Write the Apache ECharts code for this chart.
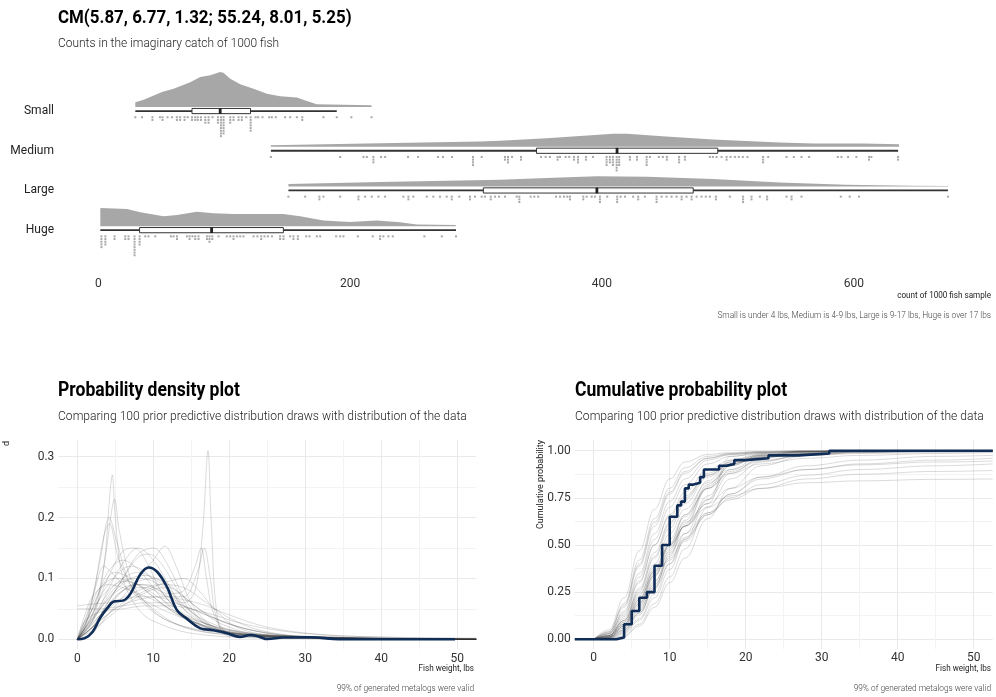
<!DOCTYPE html>
<html>
<head>
<meta charset="utf-8">
<script src="https://cdn.jsdelivr.net/npm/echarts@6/dist/echarts.min.js"></script>
<style>
  html, body { margin: 0; padding: 0; background: #fff; }
  #chart { width: 996px; height: 697px; }
</style>
</head>
<body>
<div id="chart"></div>
<script>
// ---------- Top panel: counts of each size class in a 1000-fish catch ----------
const sizeClasses = ['Huge', 'Large', 'Medium', 'Small'];   // bottom to top
const countTicks = [0, 200, 400, 600];

// Interval summaries: [lower whisker, Q1, median, Q3, upper whisker]
const boxHuge   = [1.6, 32.8, 90, 147, 284.1];
const boxLarge  = [151, 305.8, 396, 472.5, 674.8];
const boxMedium = [137.1, 348, 412, 492, 635.2];
const boxSmall  = [29.4, 74.4, 96.8, 120.9, 189.4];

// Slab densities: [count, relative density]
const slabHuge = [[1.6,0.52],[22.8,0.49],[33.3,0.40],[51.8,0.28],[62.5,0.32],[78.3,0.41],[91.5,0.37],[107.4,0.35],[147,0.35],[160.3,0.28],[178.8,0.16],[200,0.12],[221.2,0.16],[239.7,0.11],[253,0.05],[283.9,0.03]];
const slabLarge = [[151,0.07],[224,0.13],[319,0.19],[356,0.24],[396,0.29],[436,0.28],[488,0.21],[541,0.11],[594,0.05],[647,0.02],[675,0.01]];
const slabMedium = [[137,0.04],[213,0.09],[303,0.15],[319,0.17],[356,0.24],[409,0.37],[420,0.37],[448,0.30],[488,0.21],[541,0.12],[568,0.09],[607,0.09],[636,0.07]];
const slabSmall = [[29.4,0.14],[36,0.21],[50.6,0.43],[59.8,0.52],[73,0.71],[81,0.86],[88.9,0.91],[96.8,1.0],[99.4,0.98],[104.8,0.81],[112.7,0.65],[123.3,0.52],[133.9,0.38],[144.4,0.31],[157.7,0.27],[165.6,0.17],[173.5,0.08],[184,0.07],[217,0.05]];

// Dot columns: [count, number of draws stacked in the column]
const dotsHuge = [[2.5,5],[5.6,4],[12.9,2],[21.4,2],[24,2],[28.8,8],[32.8,4],[37.3,1],[39.9,1],[45.2,1],[57.7,1],[59.8,1],[62.5,2],[70.4,1],[72.5,2],[74.8,1],[77,2],[79.6,2],[86.3,2],[88.3,3],[90.5,2],[95.5,1],[102.1,1],[104.8,1],[107.4,2],[110.1,1],[112.7,1],[115.3,1],[123.3,1],[126.4,1],[129.4,2],[132,1],[134.7,1],[137.9,1],[144.4,2],[147.1,2],[152.4,1],[155,2],[158.5,2],[165.1,1],[167.7,1],[173.6,1],[176.2,1],[188.9,1],[192.1,1],[194.7,1],[206.1,1],[218,1],[223.8,2],[226.4,1],[230.4,1],[233.9,1],[259,1],[272.8,1],[284.1,1]];
const dotsLarge = [[151,1],[164.3,1],[175.6,2],[178.8,1],[192.1,1],[206.6,2],[211.9,1],[217.2,1],[222.5,1],[227.8,1],[242.3,1],[246.3,2],[250.2,1],[260.9,1],[266.1,1],[271.4,1],[276.7,1],[280.7,2],[286.7,1],[295.2,2],[299.2,1],[304.5,1],[307.1,1],[311.7,2],[315.1,1],[318.3,1],[323,1],[332.3,1],[334.4,3],[343.4,1],[346.3,1],[349.4,1],[363.5,1],[366.7,1],[369.8,1],[372.5,1],[374.6,2],[385.2,2],[387.9,1],[391.8,1],[394.4,1],[398.4,3],[404.2,1],[412.1,3],[414.8,1],[418.3,1],[424.8,1],[428.8,2],[434.1,1],[443.4,3],[447.4,1],[451.3,1],[455.3,1],[459.3,1],[463.3,2],[467.2,1],[471.2,2],[475.2,1],[479.1,1],[482.5,1],[485.7,1],[490.5,2],[501.6,1],[512.1,3],[518.8,2],[525.4,1],[531.2,2],[546.6,1],[550.6,2],[558.5,1],[589.7,1],[596.8,1],[604.2,1],[674.8,1]];
const dotsMedium = [[137.1,1],[192.1,1],[210.6,1],[213.3,1],[218.5,3],[224.6,1],[227.8,1],[246,1],[254,1],[269.8,1],[273.8,1],[281,1],[297.6,4],[304.5,1],[323,2],[325.4,3],[328.6,1],[335.7,2],[351.6,1],[355.3,1],[358.7,1],[364.8,2],[366.7,1],[371.2,1],[374,1],[377.8,2],[381,3],[387.3,2],[392.9,1],[403.7,4],[406.3,3],[408.7,4],[411.7,6],[413.7,4],[422.2,2],[427.8,2],[435.5,4],[438.1,1],[445.2,1],[448.4,1],[451.6,2],[461.3,3],[465.9,2],[485.7,1],[488.1,1],[491,1],[495,1],[499,2],[502.1,1],[505.6,1],[508.7,1],[511.9,1],[515.6,1],[528,3],[532,1],[546.6,1],[552.4,1],[558.5,1],[564.5,1],[587.3,1],[590.2,1],[595.5,1],[602.1,1],[612.1,2],[614,1],[635.2,2]];
const dotsSmall = [[29.4,1],[34.7,1],[43,2],[49,1],[51,2],[55,1],[58.5,1],[62.4,2],[65,2],[68.5,2],[71,1],[74.4,2],[77,2],[79,2],[81.5,2],[85,3],[87.6,3],[90.7,1],[95,3],[97.4,8],[99.5,7],[104.8,3],[107.4,2],[111.4,2],[114,2],[117.5,1],[121,6],[125,1],[127,1],[130.4,1],[135.7,1],[137.8,1],[141,1],[148.4,1],[152.4,1],[157.7,1],[162,2],[178.8,1],[189.4,1],[201,1],[217,1]];

// ---------- Bottom left: prior predictive densities vs. data density ----------
const densityDraws = [
  [[0,0],[2,0.03],[3.5,0.12],[4.3,0.24],[4.6,0.27],[5,0.2],[6,0.1],[8,0.05],[10,0.03],[15,0.01],[25,0.002],[52.5,0]],
  [[0,0],[2,0.04],[3.5,0.12],[4.5,0.21],[4.9,0.23],[5.5,0.18],[7,0.1],[9,0.06],[12,0.03],[18,0.01],[30,0.002],[52.5,0]],
  [[0,0],[1.5,0.04],[3,0.13],[4.2,0.2],[5.2,0.16],[7,0.09],[10,0.05],[14,0.02],[20,0.008],[52.5,0]],
  [[0,0],[2,0.07],[3.5,0.17],[4.2,0.19],[5.5,0.13],[8,0.07],[12,0.03],[20,0.01],[52.5,0]],
  [[0,0],[2,0.04],[4,0.1],[6,0.145],[7.5,0.15],[9,0.13],[11,0.08],[14,0.04],[18,0.015],[25,0.004],[52.5,0]],
  [[0,0],[2,0.02],[4,0.06],[6,0.1],[8,0.14],[10,0.15],[12,0.12],[14,0.07],[17,0.025],[22,0.008],[52.5,0]],
  [[0,0],[2,0.01],[4,0.04],[6,0.07],[8,0.1],[10,0.13],[11.5,0.153],[13,0.12],[15,0.06],[18,0.02],[24,0.005],[52.5,0]],
  [[0,0],[2,0.02],[4,0.05],[6,0.08],[8,0.09],[10,0.085],[12,0.07],[14,0.06],[15.5,0.08],[16.5,0.18],[17.2,0.31],[17.6,0.2],[18.5,0.03],[20,0.005],[52.5,0]],
  [[0,0],[3,0.04],[6,0.08],[9,0.085],[12,0.07],[14,0.07],[15.8,0.11],[16.7,0.15],[17.5,0.1],[18.5,0.03],[21,0.005],[52.5,0]],
  [[0,0],[3,0.05],[6,0.085],[9,0.09],[12,0.075],[14,0.08],[15.5,0.12],[16.3,0.15],[17,0.1],[18,0.04],[20,0.01],[52.5,0]],
  [[0,0.055],[2,0.058],[4,0.06],[6,0.065],[8,0.07],[10,0.07],[12,0.065],[14,0.055],[16,0.045],[20,0.025],[25,0.01],[30,0.004],[52.5,0]],
  [[0,0.05],[3,0.05],[6,0.055],[9,0.06],[12,0.06],[15,0.05],[18,0.035],[22,0.018],[28,0.006],[35,0.002],[52.5,0.001]],
  [[0,0],[2,0.03],[4,0.07],[6,0.095],[8,0.1],[10,0.095],[12,0.075],[14,0.05],[17,0.025],[22,0.01],[30,0.003],[52.5,0]],
  [[0,0],[1.5,0.03],[3.5,0.08],[5.5,0.11],[7,0.12],[9,0.11],[11,0.08],[13,0.05],[16,0.025],[20,0.01],[30,0.002],[52.5,0]],
  [[0,0],[2,0.05],[4,0.11],[6,0.13],[8,0.115],[10,0.085],[12,0.055],[15,0.03],[20,0.012],[28,0.004],[52.5,0]],
  [[0,0],[2,0.015],[4,0.035],[6,0.055],[8,0.07],[10,0.082],[12,0.085],[14,0.07],[16,0.05],[19,0.03],[24,0.012],[32,0.003],[52.5,0]],
  [[0,0],[3,0.03],[6,0.06],[9,0.08],[12,0.095],[14,0.1],[16,0.08],[18,0.05],[21,0.02],[26,0.006],[52.5,0]],
  [[0,0],[2,0.02],[4,0.06],[6,0.1],[8,0.135],[9.5,0.14],[11,0.125],[13,0.085],[15,0.045],[18,0.018],[24,0.005],[52.5,0]],
  [[0,0],[1,0.03],[3,0.045],[6,0.05],[9,0.055],[12,0.055],[15,0.05],[18,0.04],[22,0.025],[28,0.012],[36,0.005],[52.5,0.002]],
  [[0,0],[1,0.02],[3,0.08],[5,0.11],[7,0.1],[9,0.08],[11,0.06],[14,0.035],[18,0.015],[25,0.005],[52.5,0]],
  [[0,0],[2,0.03],[4,0.08],[6,0.125],[8,0.15],[10,0.13],[12,0.09],[14,0.05],[17,0.02],[22,0.006],[52.5,0]],
  [[0,0],[2,0.02],[5,0.06],[8,0.08],[11,0.09],[14,0.085],[17,0.06],[20,0.035],[24,0.015],[30,0.005],[52.5,0.001]],
  [[0,0],[1,0.02],[2.5,0.09],[3.5,0.12],[4.5,0.11],[6,0.09],[8,0.07],[11,0.05],[15,0.03],[20,0.012],[30,0.003],[52.5,0]],
  [[0,0],[2,0.02],[5,0.05],[8,0.065],[11,0.07],[14,0.065],[17,0.055],[20,0.04],[25,0.02],[32,0.008],[42,0.003],[52.5,0.001]],
  [[0,0],[1,0.025],[2,0.05],[4,0.08],[6,0.095],[8,0.09],[10,0.075],[13,0.05],[16,0.03],[20,0.015],[28,0.004],[52.5,0]],
  [[0,0],[1,0.03],[2,0.06],[3,0.085],[5,0.1],[7,0.095],[9,0.08],[12,0.05],[15,0.03],[20,0.012],[30,0.002],[52.5,0]],
  [[0,0],[1,0.015],[3,0.05],[5,0.08],[7,0.1],[9,0.105],[11,0.095],[13,0.07],[16,0.035],[20,0.012],[28,0.003],[52.5,0]],
  [[0,0],[2,0.035],[4,0.075],[6,0.1],[8,0.11],[10,0.1],[12,0.08],[14,0.055],[17,0.03],[22,0.01],[30,0.002],[52.5,0]],
  [[0,0],[1,0.04],[2,0.07],[4,0.09],[6,0.085],[8,0.075],[10,0.065],[13,0.045],[17,0.025],[23,0.01],[32,0.003],[52.5,0]],
  [[0,0],[2,0.025],[4,0.055],[6,0.08],[8,0.095],[10,0.1],[12,0.09],[14,0.07],[16,0.05],[19,0.025],[24,0.008],[52.5,0]]
];
const dataDensity = [[0,0],[1,0.002],[2,0.012],[3,0.035],[4,0.052],[4.8,0.062],[6.1,0.064],[7,0.075],[8.3,0.107],[9.4,0.118],[10.5,0.111],[11.8,0.086],[13.1,0.048],[14.4,0.034],[16.2,0.018],[17.9,0.015],[19.7,0.01],[21.4,0.004],[22.8,0.007],[24,0.004],[25,0.0005],[27.1,0.003],[30.7,0.0035],[33.7,0.0005],[35,0],[49.7,0]];

// ---------- Bottom right: prior predictive CDFs vs. empirical CDF ----------
const cdfGrid = [0, 2, 4, 6, 8, 10, 12, 15, 18, 22, 28, 35, 45, 52.5];
const cdfDraws = [
  [0,0.05,0.22,0.47,0.69,0.85,0.94,0.98,0.99,0.996,0.999,1,1,1],
  [0,0.04,0.19,0.42,0.64,0.8,0.91,0.97,0.985,0.993,0.998,1,1,1],
  [0,0.035,0.17,0.39,0.6,0.77,0.88,0.96,0.98,0.99,0.997,0.999,1,1],
  [0,0.03,0.15,0.35,0.56,0.73,0.85,0.95,0.98,0.99,0.996,0.999,1,1],
  [0,0.03,0.14,0.33,0.53,0.7,0.82,0.93,0.97,0.985,0.994,0.998,1,1],
  [0,0.04,0.18,0.4,0.62,0.78,0.89,0.96,0.985,0.995,0.999,1,1,1],
  [0,0.025,0.12,0.3,0.5,0.66,0.78,0.9,0.95,0.975,0.99,0.996,0.999,1],
  [0,0.02,0.11,0.27,0.46,0.62,0.75,0.88,0.94,0.97,0.985,0.993,0.997,0.999],
  [0,0.02,0.1,0.25,0.43,0.59,0.72,0.86,0.93,0.965,0.982,0.99,0.995,0.997],
  [0,0.015,0.09,0.23,0.4,0.56,0.69,0.83,0.9,0.95,0.975,0.985,0.99,0.993],
  [0,0.015,0.08,0.21,0.37,0.53,0.66,0.8,0.88,0.93,0.96,0.975,0.985,0.99],
  [0,0.02,0.1,0.26,0.44,0.61,0.74,0.87,0.93,0.965,0.985,0.995,0.999,1],
  [0,0.012,0.07,0.19,0.35,0.51,0.65,0.8,0.89,0.945,0.975,0.99,0.996,0.998],
  [0,0.01,0.06,0.17,0.33,0.5,0.66,0.84,0.94,0.98,0.995,1,1,1],
  [0,0.005,0.04,0.13,0.27,0.44,0.6,0.8,0.92,0.975,0.994,0.999,1,1],
  [0,0.003,0.03,0.1,0.22,0.37,0.53,0.74,0.88,0.96,0.99,0.998,1,1],
  [0,0.002,0.02,0.08,0.19,0.33,0.48,0.7,0.85,0.94,0.985,0.997,1,1],
  [0,0.001,0.015,0.07,0.17,0.3,0.43,0.64,0.8,0.92,0.975,0.993,0.999,1],
  [0,0.005,0.035,0.11,0.24,0.4,0.56,0.76,0.9,0.97,0.992,0.999,1,1],
  [0,0.008,0.05,0.15,0.3,0.47,0.63,0.82,0.93,0.98,0.995,1,1,1],
  [0,0.02,0.1,0.24,0.38,0.5,0.6,0.7,0.76,0.8,0.83,0.84,0.848,0.85],
  [0,0.015,0.08,0.2,0.34,0.46,0.56,0.67,0.74,0.8,0.85,0.875,0.89,0.895],
  [0,0.01,0.07,0.18,0.31,0.43,0.54,0.66,0.75,0.82,0.87,0.9,0.92,0.93],
  [0,0.02,0.09,0.22,0.36,0.49,0.6,0.72,0.8,0.86,0.9,0.925,0.94,0.945],
  [0,0.01,0.06,0.16,0.29,0.42,0.53,0.67,0.77,0.85,0.9,0.93,0.95,0.96],
  [0,0.01,0.05,0.14,0.27,0.4,0.52,0.66,0.77,0.86,0.92,0.95,0.97,0.975],
  [0,0.01,0.07,0.19,0.34,0.48,0.6,0.74,0.97,0.99,0.997,1,1,1],
  [0,0.015,0.08,0.21,0.36,0.5,0.62,0.72,0.95,0.985,0.995,1,1,1],
  [0,0.03,0.13,0.31,0.5,0.65,0.76,0.87,0.93,0.965,0.985,0.994,0.998,1],
  [0,0.006,0.045,0.14,0.28,0.45,0.61,0.81,0.92,0.975,0.994,0.999,1,1]
];
// Empirical CDF steps: [weight, cumulative share]
const dataEcdf = [[-2.5,0],[3,0.01],[4,0.08],[5,0.15],[6,0.22],[7,0.25],[8,0.39],[9,0.50],[10,0.65],[11,0.71],[11.5,0.73],[12,0.80],[12.5,0.82],[13,0.83],[14,0.86],[14.5,0.90],[16.5,0.92],[17.5,0.93],[18.5,0.95],[20,0.96],[23,0.975],[27,0.985],[31,1.0],[52.5,1.0]];

// ---------- drawing ----------
const FONT = 'Roboto, "Noto Sans", sans-serif';
const NAVY = '#0f2d57';
const DRAW_GREY = 'rgba(50,50,50,0.24)';
const GRID_MAJOR = '#e9e9e9';
const GRID_MINOR = '#f3f3f3';

const boxes = [boxHuge, boxLarge, boxMedium, boxSmall];
const slabs = [slabHuge, slabLarge, slabMedium, slabSmall];
const dotSets = [dotsHuge, dotsLarge, dotsMedium, dotsSmall];

const SLAB_PX = 35;   // pixel height of relative density 1.0
const SLAB_GAP = 4;   // gap between slab base and interval line

function renderSlab(params, api) {
  const ci = api.value(1);
  const dens = slabs[ci];
  const pts = [];
  const first = api.coord([dens[0][0], ci]);
  pts.push([first[0], first[1] - SLAB_GAP]);
  dens.forEach(([x, d]) => {
    const p = api.coord([x, ci]);
    pts.push([p[0], p[1] - SLAB_GAP - d * SLAB_PX]);
  });
  const last = api.coord([dens[dens.length - 1][0], ci]);
  pts.push([last[0], last[1] - SLAB_GAP]);
  return { type: 'polygon', shape: { points: pts }, style: { fill: '#a7a7a7' } };
}

function renderBox(params, api) {
  const ci = api.value(1);
  const [lo, q1, med, q3, hi] = boxes[ci];
  const a = api.coord([lo, ci]), b = api.coord([q1, ci]), m = api.coord([med, ci]);
  const c = api.coord([q3, ci]), d = api.coord([hi, ci]);
  const y = a[1];
  return {
    type: 'group',
    children: [
      { type: 'line', shape: { x1: a[0], y1: y, x2: d[0], y2: y }, style: { stroke: '#333', lineWidth: 1.8 } },
      { type: 'rect', shape: { x: b[0], y: y - 2.6, width: c[0] - b[0], height: 5.2 }, style: { fill: '#fff', stroke: '#333', lineWidth: 1 } },
      { type: 'rect', shape: { x: m[0] - 1.4, y: y - 2.9, width: 2.8, height: 5.8 }, style: { fill: '#222' } }
    ]
  };
}

function renderDots(params, api) {
  const x = api.value(0), ci = api.value(1), n = api.value(2);
  const p = api.coord([x, ci]);
  const children = [];
  for (let k = 0; k < n; k++) {
    children.push({ type: 'rect', shape: { x: p[0] - 1, y: p[1] + 5.2 + k * 2.7, width: 2, height: 2 }, style: { fill: '#a8a8a8' } });
  }
  return { type: 'group', children };
}

const dotData = [];
dotSets.forEach((set, ci) => set.forEach(([v, n]) => dotData.push([v, ci, n])));

const nearMultiple = (v, step) => Math.abs(v / step - Math.round(v / step)) < 1e-6;

function txt(text, x, y, size, o = {}) {
  return {
    type: 'text', x, y, silent: true,
    rotation: o.rotation || 0,
    scaleX: o.scaleX || 1,
    style: {
      text,
      font: `${o.weight || 'normal'} ${size}px ${FONT}`,
      fill: o.color || '#222',
      align: o.align || 'left',
      verticalAlign: 'middle'
    }
  };
}

const weightAxisBase = {
  type: 'value', min: -2.5, max: 52.5, splitNumber: 5,
  axisLine: { show: false }, axisTick: { show: false },
  axisLabel: { color: '#333', fontSize: 12, fontFamily: FONT, margin: 4,
    formatter: v => nearMultiple(v, 10) ? String(Math.round(v)) : '' },
  splitLine: { show: false }
};

const option = {
  animation: false,
  textStyle: { fontFamily: FONT },
  grid: [
    { left: 58, width: 933, top: 91.2, height: 158.8 },
    { left: 58.3, width: 418, top: 440, height: 209 },
    { left: 574.7, width: 418, top: 450.7, height: 188.6 },
    { left: 574.7, width: 418, top: 440, height: 209 }
  ],
  xAxis: [
    { gridIndex: 0, type: 'value', min: -32, max: 709, splitNumber: 4,
      axisLine: { show: false }, axisTick: { show: false }, splitLine: { show: false },
      axisLabel: { color: '#333', fontSize: 12, margin: 28,
        formatter: v => countTicks.includes(Math.round(v)) && nearMultiple(v, 200) ? String(Math.round(v)) : '' } },
    Object.assign({}, weightAxisBase, {
      gridIndex: 1,
      splitLine: { show: true, showMinLine: false, showMaxLine: false, lineStyle: { color: GRID_MAJOR, width: 1 } },
      minorTick: { show: false, splitNumber: 2 },
      minorSplitLine: { show: true, lineStyle: { color: GRID_MINOR, width: 1 } }
    }),
    Object.assign({}, weightAxisBase, { gridIndex: 2, axisLabel: Object.assign({}, weightAxisBase.axisLabel, { margin: 13 }) }),
    Object.assign({}, weightAxisBase, {
      gridIndex: 3, axisLabel: { show: false },
      splitLine: { show: true, showMinLine: false, showMaxLine: false, lineStyle: { color: GRID_MAJOR, width: 1 } },
      minorTick: { show: false, splitNumber: 2 },
      minorSplitLine: { show: true, lineStyle: { color: GRID_MINOR, width: 1 } }
    })
  ],
  yAxis: [
    { gridIndex: 0, type: 'category', data: sizeClasses,
      axisLine: { show: false }, axisTick: { show: false }, splitLine: { show: false },
      axisLabel: { color: '#222', fontSize: 12, margin: 4 } },
    { gridIndex: 1, type: 'value', min: -0.0159, max: 0.3274, splitNumber: 3,
      axisLine: { show: false }, axisTick: { show: false },
      axisLabel: { color: '#333', fontSize: 12, margin: 4,
        formatter: v => nearMultiple(v, 0.1) ? v.toFixed(1) : '' },
      splitLine: { show: true, showMinLine: false, showMaxLine: false, lineStyle: { color: GRID_MAJOR, width: 1 } },
      minorTick: { show: false, splitNumber: 2 },
      minorSplitLine: { show: true, lineStyle: { color: GRID_MINOR, width: 1 } } },
    { gridIndex: 2, type: 'value', min: 0, max: 1, interval: 0.25,
      axisLine: { show: false }, axisTick: { show: false },
      axisLabel: { color: '#333', fontSize: 12, margin: 4, formatter: v => v.toFixed(2) },
      splitLine: { show: true, lineStyle: { color: GRID_MAJOR, width: 1 } },
      minorTick: { show: false, splitNumber: 2 },
      minorSplitLine: { show: true, lineStyle: { color: GRID_MINOR, width: 1 } } },
    { gridIndex: 3, type: 'value', min: 0, max: 1, show: false, splitLine: { show: false } }
  ],
  series: [
    { type: 'custom', name: 'slab', xAxisIndex: 0, yAxisIndex: 0, silent: true,
      renderItem: renderSlab, encode: { x: 0, y: 1 },
      data: boxes.map((b, i) => [b[2], i]) },
    { type: 'custom', name: 'interval', xAxisIndex: 0, yAxisIndex: 0, silent: true,
      renderItem: renderBox, encode: { x: 0, y: 1 },
      data: boxes.map((b, i) => [b[2], i]), z: 3 },
    { type: 'custom', name: 'draws', xAxisIndex: 0, yAxisIndex: 0, silent: true,
      renderItem: renderDots, encode: { x: 0, y: 1 },
      data: dotData, z: 2 },

    ...densityDraws.map(d => ({
      type: 'line', xAxisIndex: 1, yAxisIndex: 1, data: d, smooth: 0.35,
      showSymbol: false, silent: true, clip: false,
      lineStyle: { color: DRAW_GREY, width: 0.75 }
    })),
    { type: 'line', xAxisIndex: 1, yAxisIndex: 1, data: dataDensity, smooth: 0.4,
      showSymbol: false, silent: true, clip: false, z: 5,
      lineStyle: { color: NAVY, width: 2.6 } },

    ...cdfDraws.map(row => ({
      type: 'line', xAxisIndex: 2, yAxisIndex: 2, data: row.map((y, i) => [cdfGrid[i], y]),
      smooth: 0.4, smoothMonotone: 'x', showSymbol: false, silent: true, clip: false,
      lineStyle: { color: DRAW_GREY, width: 0.75 }
    })),
    { type: 'line', xAxisIndex: 2, yAxisIndex: 2, data: dataEcdf, step: 'end',
      showSymbol: false, silent: true, clip: false, z: 5,
      lineStyle: { color: NAVY, width: 2.6 } }
  ],
  graphic: [
    txt('CM(5.87, 6.77, 1.32; 55.24, 8.01, 5.25)', 58, 18, 19, { weight: 'bold', color: '#000', scaleX: 0.89 }),
    txt('Counts in the imaginary catch of 1000 fish', 58, 44, 13, { weight: 300, color: '#222', scaleX: 0.92 }),
    txt('count of 1000 fish sample', 991, 296, 9, { align: 'right', scaleX: 0.9 }),
    txt('Small is under 4 lbs, Medium is 4-9 lbs, Large is 9-17 lbs, Huge is over 17 lbs', 991, 316, 9, { align: 'right', color: '#444', weight: 300, scaleX: 0.92 }),

    txt('Probability density plot', 58, 391, 19.5, { weight: 'bold', color: '#000', scaleX: 0.9 }),
    txt('Comparing 100 prior predictive distribution draws with distribution of the data', 58, 417, 13, { weight: 300, color: '#222', scaleX: 0.93 }),
    txt('d', 7, 441, 9, { rotation: Math.PI / 2, align: 'right' }),
    txt('Fish weight, lbs', 474, 669, 9, { align: 'right', scaleX: 0.9 }),
    txt('99% of generated metalogs were valid', 474, 689, 9, { align: 'right', color: '#444', weight: 300, scaleX: 0.92 }),

    txt('Cumulative probability plot', 575, 391, 19.5, { weight: 'bold', color: '#000', scaleX: 0.9 }),
    txt('Comparing 100 prior predictive distribution draws with distribution of the data', 575, 417, 13, { weight: 300, color: '#222', scaleX: 0.93 }),
    txt('Cumulative probability', 541, 440, 9, { rotation: Math.PI / 2, align: 'right' }),
    txt('Fish weight, lbs', 991, 669, 9, { align: 'right', scaleX: 0.9 }),
    txt('99% of generated metalogs were valid', 991, 689, 9, { align: 'right', color: '#444', weight: 300, scaleX: 0.92 })
  ]
};

const chart = echarts.init(document.getElementById('chart'), null, { renderer: 'canvas' });
chart.setOption(option);
</script>
</body>
</html>
